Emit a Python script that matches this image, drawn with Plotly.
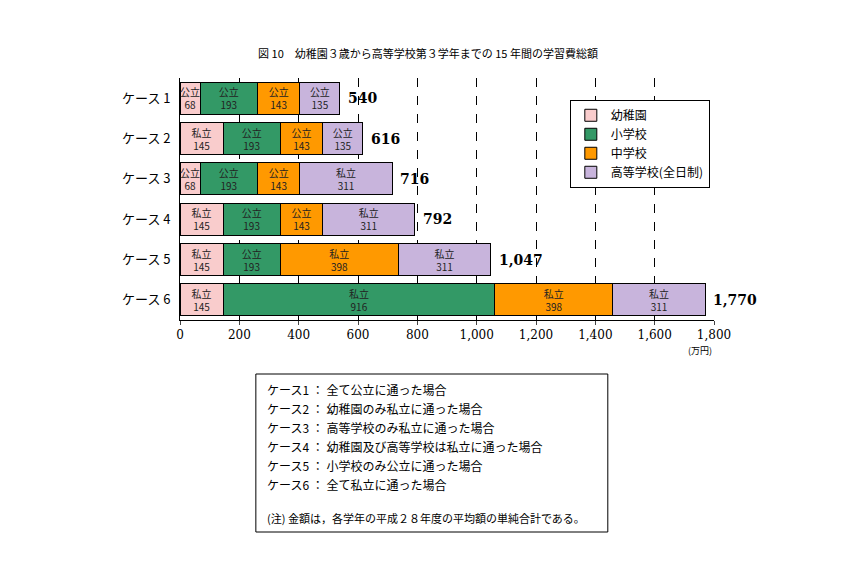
import plotly.graph_objects as go

cases = ["ケース 1", "ケース 2", "ケース 3", "ケース 4", "ケース 5", "ケース 6"]
stages = ["幼稚園", "小学校", "中学校", "高等学校(全日制)"]
colors = ["#f9cccc", "#339966", "#ff9900", "#c8b4dc"]
values = [
    [68, 145, 68, 145, 145, 145],
    [193, 193, 193, 193, 193, 916],
    [143, 143, 143, 143, 398, 398],
    [135, 135, 311, 311, 311, 311],
]
types = [
    ["公立", "私立", "公立", "私立", "私立", "私立"],
    ["公立", "公立", "公立", "公立", "公立", "私立"],
    ["公立", "公立", "公立", "公立", "私立", "私立"],
    ["公立", "公立", "私立", "私立", "私立", "私立"],
]
totals = [540, 616, 716, 792, 1047, 1770]
total_labels = ["540", "616", "716", "792", "1,047", "1,770"]
notes = [
    "ケース1 ： 全て公立に通った場合",
    "ケース2 ： 幼稚園のみ私立に通った場合",
    "ケース3 ： 高等学校のみ私立に通った場合",
    "ケース4 ： 幼稚園及び高等学校は私立に通った場合",
    "ケース5 ： 小学校のみ公立に通った場合",
    "ケース6 ： 全て私立に通った場合",
]

F = "Noto Sans CJK JP"
fig = go.Figure()
for i, s in enumerate(stages):
    fig.add_trace(go.Bar(
        y=cases, x=values[i], orientation="h", name=s,
        marker=dict(color=colors[i], line=dict(color="black", width=1)),
        text=[f"{t}<br>{v}" for t, v in zip(types[i], values[i])],
        textposition="inside", insidetextanchor="middle", textangle=0,
        textfont=dict(size=10, color="#222", family=F),
        constraintext="none", width=0.8,
    ))
for c, t, lab in zip(cases, totals, total_labels):
    fig.add_annotation(x=t, y=c, text=f"<b>{lab}</b>", showarrow=False,
                       xanchor="left", xshift=6,
                       font=dict(size=14, color="black", family="DejaVu Serif"))

fig.update_layout(
    width=866, height=565, barmode="stack", plot_bgcolor="white", paper_bgcolor="white",
    margin=dict(l=172, r=160, t=70, b=253),
    font=dict(family=F, color="black"),
    title=dict(text="図 10　幼稚園３歳から高等学校第３学年までの 15 年間の学習費総額",
               x=0.485, y=0.925, xanchor="center", font=dict(size=11)),
    xaxis=dict(range=[0, 1800], dtick=200, tickformat=",", showgrid=True,
               gridcolor="black", griddash="dash", gridwidth=1,
               showline=True, linecolor="black", ticks="outside", ticklen=4,
               tickfont=dict(size=12, family="DejaVu Serif"), zeroline=False),
    yaxis=dict(autorange="reversed", showline=True, linecolor="black",
               ticks="", tickfont=dict(size=13), ticksuffix="  "),
    legend=dict(x=0.73, y=0.91, xanchor="left", yanchor="top",
                bordercolor="black", borderwidth=1, font=dict(size=12),
                tracegroupgap=4, traceorder="normal"),
    uniformtext=dict(minsize=9, mode="show"),
)
fig.add_annotation(text="(万円)", xref="paper", yref="paper", x=1.0, y=-0.16,
                   showarrow=False, font=dict(size=9), xanchor="right")
fig.add_shape(type="rect", xref="paper", yref="paper",
              x0=(253-178)/528, x1=(601-178)/528, y0=(312-524)/242, y1=(312-366)/242,
              line=dict(color="black", width=1))
for k, n in enumerate(notes):
    fig.add_annotation(text=n, xref="paper", yref="paper", x=(262-178)/528,
                       y=(312-381-k*19)/242, xanchor="left", yanchor="middle",
                       showarrow=False, font=dict(size=12))
fig.add_annotation(text="(注) 金額は，各学年の平成２８年度の平均額の単純合計である。",
                   xref="paper", yref="paper", x=(262-178)/528, y=(312-510)/242,
                   xanchor="left", yanchor="middle", showarrow=False, font=dict(size=11))
fig.write_html("out.html")
